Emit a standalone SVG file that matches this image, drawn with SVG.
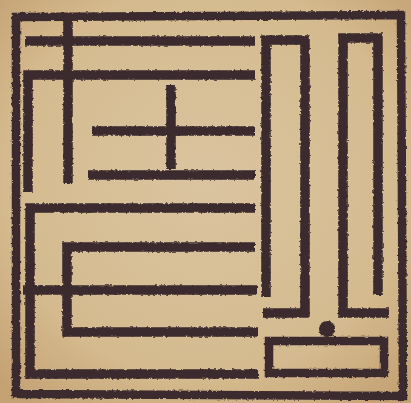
<svg xmlns="http://www.w3.org/2000/svg" width="411" height="403" viewBox="0 0 411 403">
<defs>
<radialGradient id="bg" cx="50%" cy="45%" r="70%">
<stop offset="0" stop-color="#dac4a0"/>
<stop offset="0.7" stop-color="#d4ba8e"/>
<stop offset="1" stop-color="#c4a274"/>
</radialGradient>
<filter id="rough" x="-5%" y="-5%" width="110%" height="110%">
<feTurbulence type="fractalNoise" baseFrequency="0.35" numOctaves="2" seed="3" result="n"/>
<feDisplacementMap in="SourceGraphic" in2="n" scale="3" xChannelSelector="R" yChannelSelector="G"/>
</filter>
</defs>
<style>
.ink{fill:none;stroke:#3b2a2d;stroke-width:9.5;stroke-linecap:butt;stroke-linejoin:miter}
.thin{stroke-width:8.5}
</style>
<rect width="411" height="403" fill="url(#bg)"/>
<g filter="url(#rough)">
<path class="ink thin" d="M16,17 L401,15 L403,396 L16,394 Z"/>
<path class="ink" d="M25,41 H255"/>
<path class="ink" d="M68,17 V183"/>
<path class="ink" d="M255,75 H28 V192"/>
<path class="ink" d="M171,85 V169"/>
<path class="ink" d="M92,131 H255"/>
<path class="ink" d="M88,175 H255"/>
<path class="ink" d="M255,208 H30 V374 H258"/>
<path class="ink" d="M255,247 H67 V332 H258"/>
<path class="ink" d="M23,290 H257"/>
<path class="ink" d="M266,297 V40 H305 V313 H263"/>
<path class="ink" d="M378,295 V38 H343 V313 H389"/>
<rect class="ink thin" x="269" y="341" width="115" height="32"/>
<circle cx="327" cy="329" r="8" fill="#3b2a2d"/>
</g>
</svg>
